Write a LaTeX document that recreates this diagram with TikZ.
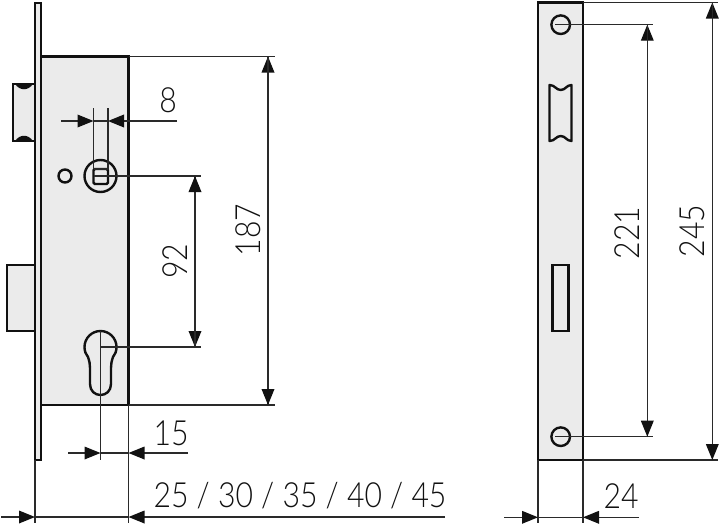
\documentclass[tikz,border=0pt]{standalone}
\usepackage{fontspec}
\setmainfont{Lato}[UprightFont=* Light, FakeStretch=0.87]
\usetikzlibrary{calc,arrows.meta}
\definecolor{ink}{HTML}{111111}
\definecolor{dimink}{HTML}{2A2A2A}
\definecolor{lockgray}{HTML}{EBEBEB}
\tikzset{
    part/.style={draw=ink, fill=lockgray, line width=1.8pt, line join=miter},
    hole/.style={draw=ink, line width=1.8pt},
    dim/.style={draw=dimink, line width=0.95pt},
    dimtip/.style={dim, -{Triangle[length=12pt, width=9.5pt, color=ink]}},
    size/.style={font=\fontsize{26}{26}\selectfont, text=ink, inner sep=0pt},
}
\begin{document}
\begin{tikzpicture}[x=0.75pt, y=-0.75pt]
    \useasboundingbox (0,0) rectangle (720,525);

    % Lock body
    \draw[part] (13,84) rectangle (35,141);
    \fill[ink] (15,84) .. controls (20,91) and (28,91) .. (33,84) -- cycle;
    \fill[ink] (15,141) .. controls (20,134) and (28,134) .. (33,141) -- cycle;
    \draw[part] (7,265) rectangle (35,331);
    \draw[part] (35,3) rectangle (41,460);
    \draw[part] (41,56.5) rectangle (128.5,405);

    \coordinate (case_top) at (128.5,56.5);
    \coordinate (case_bottom) at (128.5,405);
    \coordinate (follower) at (100.5,176);
    \coordinate (cylinder) at (100.5,347);

    \draw[hole] (65,176) circle (6.5);
    \draw[hole] (follower) circle (16);
    \draw[hole, rounded corners=1pt] (93.5,169) rectangle (108,184);
    \draw[dim] (93.5,169) -- (108,169) (93.5,176) -- (108,176);
    \draw[hole] (90,384) -- (90,368) .. controls (90,364) and (89.5,361.5) .. (88,357)
        .. controls (85.8,354.5) and (84.5,351) .. (84.5,347)
        .. controls (84.5,338.2) and (91.7,331) .. (100.5,331)
        .. controls (109.3,331) and (116.5,338.2) .. (116.5,347)
        .. controls (116.5,351) and (115.2,354.5) .. (113,357)
        .. controls (111.5,361.5) and (111,364) .. (111,368) -- (111,384)
        .. controls (111,391) and (106,395) .. (100.5,395)
        .. controls (95,395) and (90,391) .. (90,384) -- cycle;

    % Front plate
    \draw[part] (538,2.5) rectangle (583,460);
    \coordinate (screw_top) at (560.7,24.7);
    \coordinate (screw_bottom) at (560.7,436.7);
    \coordinate (plate_top) at (583,2.5);
    \coordinate (plate_bottom) at (583,460);
    \draw[hole] (screw_top) circle (9.3);
    \draw[hole] (screw_bottom) circle (9.3);
    \draw[hole, line join=round] (549.5,85) .. controls (555,85) and (556,90) .. (560.7,90)
        .. controls (565.5,90) and (566.5,85) .. (571.5,85) -- (571.5,141)
        .. controls (566.5,141) and (565.5,136) .. (560.7,136)
        .. controls (556,136) and (555,141) .. (549.5,141) -- cycle;
    \draw[hole] (552.5,265) rectangle (568.5,331);

    % Dimensions of the lock
    \coordinate (a8) at (93.5,121);
    \coordinate (b8) at (108,121);
    \draw[dim] (93.5,108) -- (a8) -- (93.5,169);
    \draw[dim] (108,108) -- (b8) -- (108,169);
    \draw[dimtip] (61,121) -- (a8);
    \draw[dimtip] (177,121) -- (b8);
    \draw[dim] (a8) -- (b8);
    \node[size] (label8) at (168,100) {8};

    \coordinate (a92) at (195,176);
    \coordinate (b92) at (195,347);
    \draw[dim] (follower) -- (201,176);
    \draw[dim] (cylinder) -- (201,347);
    \draw[dimtip] (a92) -- (b92);
    \draw[dimtip] (b92) -- (a92);
    \node[size, rotate=90] (label92) at (175,261) {92};

    \draw[dim] (case_top) -- (275,56.5);
    \draw[dim] (case_bottom) -- (275,405);
    \draw[dimtip] (268,405) -- (268,56.5);
    \draw[dimtip] (268,56.5) -- (268,405);
    \node[size, rotate=90] (label187) at (248,230) {187};

    \coordinate (a15) at (100.5,453);
    \coordinate (b15) at (128.5,453);
    \draw[dim] (100.5,331) -- (100.5,460);
    \draw[dim] (case_bottom) -- (128.5,523);
    \draw[dimtip] (68,453) -- (a15);
    \draw[dimtip] (188,453) -- (b15);
    \draw[dim] (a15) -- (b15);
    \node[size] (label15) at (171,433) {15};

    \coordinate (a25) at (35,517);
    \coordinate (b25) at (128.5,517);
    \draw[dim] (35,460) -- (35,523);
    \draw[dimtip] (1,517) -- (a25);
    \draw[dimtip] (445,517) -- (b25);
    \draw[dim] (a25) -- (b25);
    \node[size] (label25) at (300,496) {25 / 30 / 35 / 40 / 45};

    % Dimensions of the plate
    \draw[dim] (555,24.7) -- (653,24.7);
    \draw[dim] (555,436.7) -- (653,436.7);
    \draw[dimtip] (647.3,436.7) -- (647.3,24.7);
    \draw[dimtip] (647.3,24.7) -- (647.3,436.7);
    \node[size, rotate=90] (label221) at (627,233) {221};

    \draw[dim] (plate_top) -- (718,2.5);
    \draw[dim] (plate_bottom) -- (718,460);
    \draw[dimtip] (712.3,460) -- (712.3,2.5);
    \draw[dimtip] (712.3,2.5) -- (712.3,460);
    \node[size, rotate=90] (label245) at (692,231) {245};

    \coordinate (a24) at (538,517.3);
    \coordinate (b24) at (583,517.3);
    \draw[dim] (538,460) -- (538,523);
    \draw[dim] (plate_bottom) -- (583,523);
    \draw[dimtip] (504,517.3) -- (a24);
    \draw[dimtip] (639,517.3) -- (b24);
    \draw[dim] (a24) -- (b24);
    \node[size] (label24) at (621,496) {24};
\end{tikzpicture}
\end{document}
